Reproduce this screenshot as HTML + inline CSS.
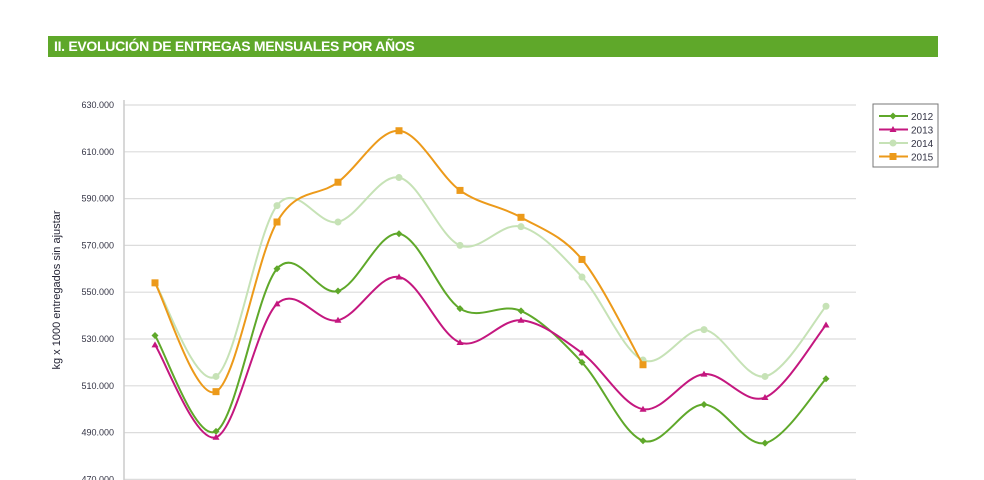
<!DOCTYPE html>
<html><head><meta charset="utf-8"><style>
body{margin:0;background:#fff;width:984px;height:480px;overflow:hidden;font-family:"Liberation Sans",sans-serif}
#title{position:absolute;left:48px;top:36px;width:890px;height:21px;background:#5fa82a;color:#fff;font-weight:bold;font-size:14px;line-height:21px;padding-left:6px;box-sizing:border-box;letter-spacing:-0.3px}
svg{position:absolute;left:0;top:0}
</style></head><body>
<div id="title">II. EVOLUCIÓN DE ENTREGAS MENSUALES POR AÑOS</div>
<svg id="c" width="984" height="480"></svg>
<script>
const ticks=[470000,490000,510000,530000,550000,570000,590000,610000,630000];
const tickLabels=["470.000","490.000","510.000","530.000","550.000","570.000","590.000","610.000","630.000"];
const s2012=[531.5,490.5,560,550.5,575,543,542,520,486.5,502,485.5,513];
const s2013=[527.5,488,545,538,556.5,528.5,538,524,500,515,505,536];
const s2014=[554,514,587,580,599,570,578,556.5,521,534,514,544];
const s2015=[554,507.5,580,597,619,593.5,582,564,519];
const names=["2012","2013","2014","2015"];
const colors=["#5fa82a","#c4177f","#c6e2b6","#ec9a1a"];
const svg=document.getElementById('c');const NS='http://www.w3.org/2000/svg';
const y=v=>105+(630000-v)/20000*46.8;
const x=i=>155+i*61;
function el(t,a,p){const e=document.createElementNS(NS,t);for(const k in a)e.setAttribute(k,a[k]);(p||svg).appendChild(e);return e;}
ticks.forEach((t,i)=>{
 const g=el('line',{x1:124,x2:856,y1:y(t),y2:y(t),stroke:'#dcdcdc','stroke-width':1.2});
 
 
 const l=el('text',{x:114,y:y(t)+3,'text-anchor':'end','font-size':9,fill:'#334'});l.textContent=tickLabels[i];
 
 
});
const ax=el('line',{x1:124,x2:124,y1:100,y2:480,stroke:'#ccc','stroke-width':1.5});


const yt=el('text',{transform:'translate(60,290) rotate(-90)','text-anchor':'middle','font-size':11,fill:'#223'});yt.textContent='kg x 1000 entregados sin ajustar';


function path(vals){const p=vals.map((v,i)=>[x(i),y(v*1000)]);let d='M'+p[0];for(let i=0;i<p.length-1;i++){const p0=p[i-1]||p[i],p1=p[i],p2=p[i+1],p3=p[i+2]||p2;const c1=[p1[0]+(p2[0]-p0[0])/6,p1[1]+(p2[1]-p0[1])/6],c2=[p2[0]-(p3[0]-p1[0])/6,p2[1]-(p3[1]-p1[1])/6];d+='C'+c1+' '+c2+' '+p2;}return d;}
function marker(i,cx,cy,g){let m;if(i==0)m=el('path',{d:`M${cx} ${cy-3.5}L${cx+3.5} ${cy}L${cx} ${cy+3.5}L${cx-3.5} ${cy}Z`,fill:colors[i]},g);
 else if(i==1)m=el('path',{d:`M${cx} ${cy-3.5}L${cx+3.5} ${cy+2.5}L${cx-3.5} ${cy+2.5}Z`,fill:colors[i]},g);
 else if(i==2)m=el('circle',{cx,cy,r:3.5,fill:colors[i]},g);
 else m=el('rect',{x:cx-3.5,y:cy-3.5,width:7,height:7,fill:colors[i]},g);
 
 }
[s2014,s2015,s2012,s2013].forEach((s)=>{const i=[s2012,s2013,s2014,s2015].indexOf(s);
 const g=el('g',{});
 
 el('path',{d:path(s),fill:'none',stroke:colors[i],'stroke-width':2},g);
 s.forEach((v,j)=>marker(i,x(j),y(v*1000),g));});
const lg=el('g',{});

el('rect',{x:873,y:104,width:65,height:63,fill:'#fff',stroke:'#777'},lg);
names.forEach((n,i)=>{const yy=116+i*13.5;el('line',{x1:879,x2:908,y1:yy,y2:yy,stroke:colors[i],'stroke-width':2},lg);marker(i,893,yy,lg);
 const t=el('text',{x:911,y:yy+4,'font-size':10,fill:'#334'},lg);t.textContent=n;
 
 });
</script>
</body></html>
